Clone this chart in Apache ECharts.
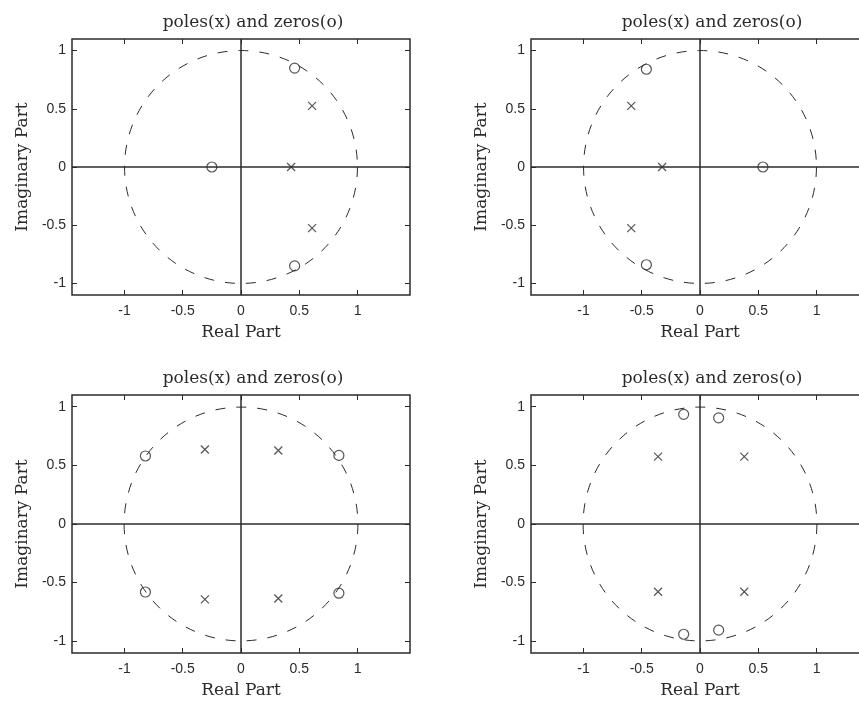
<!DOCTYPE html>
<html>
<head>
<meta charset="utf-8">
<script src="https://cdn.jsdelivr.net/npm/echarts@6/dist/echarts.min.js"></script>
<style>
  html, body { margin: 0; padding: 0; background: #fff; overflow: hidden; width: 859px; height: 706px; }
  /* wider than the window: the right-hand plots run off the edge like the original */
  #main { width: 880px; height: 706px; }
</style>
</head>
<body>
<div id="main"></div>
<script>
// pole/zero positions [re, im]
const zeros1 = [[-0.25, 0], [0.46, 0.85], [0.46, -0.85]];
const poles1 = [[0.43, 0], [0.61, 0.525], [0.61, -0.525]];
const zeros2 = [[0.54, 0], [-0.46, 0.84], [-0.46, -0.84]];
const poles2 = [[-0.325, 0], [-0.59, 0.525], [-0.59, -0.525]];
const zeros3 = [[-0.82, 0.58], [-0.82, -0.58], [0.84, 0.585], [0.84, -0.59]];
const poles3 = [[-0.31, 0.635], [-0.31, -0.643], [0.32, 0.627], [0.32, -0.635]];
const zeros4 = [[-0.14, 0.935], [-0.14, -0.94], [0.16, 0.905], [0.16, -0.905]];
const poles4 = [[-0.36, 0.575], [-0.36, -0.578], [0.38, 0.575], [0.38, -0.578]];
const unitCircle = [[0, 0, 1]];

const tickVals = [-1, -0.5, 0, 0.5, 1];
const titleText = 'poles(x) and zeros(o)';
const xName = 'Real Part';
const yName = 'Imaginary Part';

const ink = '#2b2b2b';
const serif = 'DejaVu Serif';
const sans = 'Liberation Sans';

// grid boxes in px
const boxes = [
  { left: 72, top: 39, width: 338, height: 256 },
  { left: 531, top: 39, width: 338, height: 256 },
  { left: 72, top: 395, width: 338, height: 258 },
  { left: 531, top: 395, width: 338, height: 258 }
];
const zs = [zeros1, zeros2, zeros3, zeros4];
const ps = [poles1, poles2, poles3, poles4];

let chart = echarts.init(document.getElementById('main'));

let grid = [], xAxis = [], yAxis = [], title = [], series = [];

boxes.forEach(function (b, i) {
  grid.push({ left: b.left, top: b.top, width: b.width, height: b.height,
    show: true, borderColor: ink, borderWidth: 1.5, backgroundColor: '#fff' });

  title.push({ text: titleText, left: b.left + 176, top: b.top - 30, textAlign: 'center',
    textStyle: { fontFamily: serif, fontWeight: 'normal', fontSize: 17, color: ink } });

  const tick = { show: true, inside: true, length: 5, customValues: tickVals,
    lineStyle: { color: ink, width: 1 } };
  const noLine = { show: false, onZero: false };

  xAxis.push({
    gridIndex: i, type: 'value', min: -1.45, max: 1.45, position: 'bottom',
    name: xName, nameLocation: 'middle', nameGap: 29,
    nameTextStyle: { fontFamily: serif, fontSize: 17, color: ink },
    axisLine: noLine, splitLine: { show: false },
    axisTick: tick,
    axisLabel: { customValues: tickVals, margin: 9, fontFamily: sans, fontSize: 14, color: ink }
  });
  xAxis.push({
    gridIndex: i, type: 'value', min: -1.45, max: 1.45, position: 'top',
    axisLine: noLine, splitLine: { show: false },
    axisTick: tick, axisLabel: { show: false }
  });
  yAxis.push({
    gridIndex: i, type: 'value', min: -1.1, max: 1.1, position: 'left',
    name: yName, nameLocation: 'middle', nameGap: 41,
    nameTextStyle: { fontFamily: serif, fontSize: 17, color: ink },
    axisLine: noLine, splitLine: { show: false },
    axisTick: tick,
    axisLabel: { customValues: tickVals, margin: 6, fontFamily: sans, fontSize: 14, color: ink }
  });
  yAxis.push({
    gridIndex: i, type: 'value', min: -1.1, max: 1.1, position: 'right',
    axisLine: noLine, splitLine: { show: false },
    axisTick: tick, axisLabel: { show: false }
  });

  // dashed unit circle
  series.push({
    type: 'custom', xAxisIndex: 2 * i, yAxisIndex: 2 * i, silent: true,
    data: unitCircle,
    renderItem: function (params, api) {
      const c = api.coord([api.value(0), api.value(1)]);
      const s = api.size([api.value(2), api.value(2)]);
      return {
        type: 'circle',
        shape: { cx: c[0], cy: c[1], r: (s[0] + s[1]) / 2 },
        style: { fill: 'none', stroke: ink, lineWidth: 1, lineDash: [10, 11] }
      };
    }
  });

  // zeros, with the real / imaginary axes drawn as mark lines
  series.push({
    type: 'scatter', xAxisIndex: 2 * i, yAxisIndex: 2 * i,
    data: zs[i], symbol: 'circle', symbolSize: 10,
    itemStyle: { color: 'none', borderColor: ink, borderWidth: 1.2 },
    markLine: {
      silent: true, symbol: 'none', label: { show: false },
      lineStyle: { color: ink, type: 'solid', width: 1.5 },
      data: [{ xAxis: 0 }, { yAxis: 0 }]
    }
  });

  // poles
  series.push({
    type: 'scatter', xAxisIndex: 2 * i, yAxisIndex: 2 * i,
    data: ps[i], symbol: 'path://M0,0L10,10M10,0L0,10', symbolSize: 8,
    itemStyle: { color: 'none', borderColor: ink, borderWidth: 1.2 }
  });
});

chart.setOption({
  animation: false,
  title: title,
  grid: grid,
  xAxis: xAxis,
  yAxis: yAxis,
  series: series
});
</script>
</body>
</html>
